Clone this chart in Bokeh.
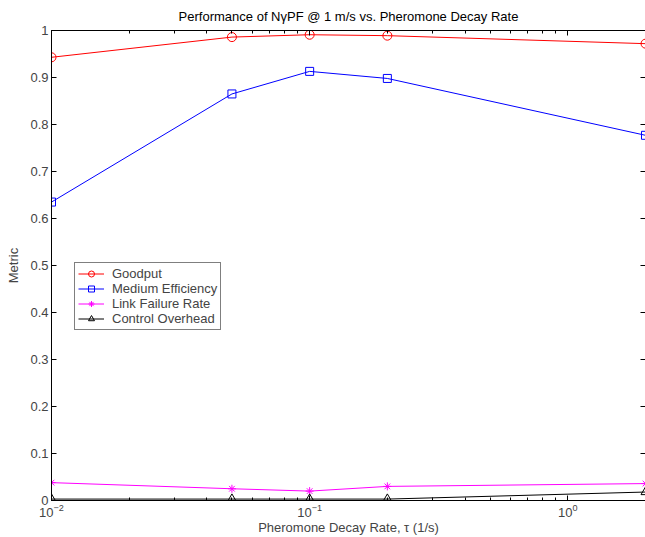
from bokeh.plotting import figure
from bokeh.models import Range1d, LinearAxis, LogAxis, CustomJSTickFormatter, FixedTicker, LogTicker, Legend
from bokeh.embed import file_html
from bokeh.resources import INLINE

# ---- data ----
decay_rate = [0.01, 0.05, 0.1, 0.2, 2.0]
goodput = [0.943, 0.986, 0.991, 0.989, 0.972]
medium_efficiency = [0.635, 0.865, 0.913, 0.898, 0.777]
link_failure_rate = [0.038, 0.025, 0.020, 0.030, 0.036]
control_overhead = [0.003, 0.003, 0.003, 0.003, 0.018]

y_ticks = [0, 0.1, 0.2, 0.3, 0.4, 0.5, 0.6, 0.7, 0.8, 0.9, 1.0]

title_text = "Performance of N\u03b3PF @ 1 m/s vs. Pheromone Decay Rate"
x_label = "Pheromone Decay Rate, \u03c4 (1/s)"
y_label = "Metric"

FONT = "Liberation Sans"
FS = "13px"

p = figure(width=645, height=537, x_axis_type="log",
           x_range=Range1d(0.01, 2.0), y_range=Range1d(0, 1),
           output_backend="svg", toolbar_location=None,
           min_border_left=51, min_border_right=0,
           min_border_top=30, min_border_bottom=37)

p.background_fill_color = "white"
p.border_fill_color = "white"
p.outline_line_color = None
p.xgrid.visible = False
p.ygrid.visible = False

p.title.text = title_text
p.title.align = "center"
p.title.vertical_align = "bottom"
p.title.text_font = FONT
p.title.text_font_size = FS
p.title.text_font_style = "normal"
p.title.text_color = "black"
p.title.standoff = 13

# bottom axis
xa = p.xaxis[0]
xa.ticker = LogTicker(num_minor_ticks=10)
xa.axis_label = x_label
xa.axis_label_text_font = FONT
xa.axis_label_text_font_size = FS
xa.axis_label_text_font_style = "normal"
xa.axis_label_standoff = 0
xa.major_label_text_font = FONT
xa.major_label_text_font_size = FS
xa.major_label_standoff = 3
xa.major_tick_in = 5
xa.major_tick_out = 0
xa.minor_tick_in = 3
xa.minor_tick_out = 0
xa.axis_line_color = "black"

# left axis
ya = p.yaxis[0]
ya.ticker = FixedTicker(ticks=y_ticks)
ya.formatter = CustomJSTickFormatter(code="return tick.toFixed(1).replace(/\\.0$/, '');")
ya.axis_label = y_label
ya.axis_label_text_font = FONT
ya.axis_label_text_font_size = FS
ya.axis_label_text_font_style = "normal"
ya.axis_label_standoff = 6
ya.major_label_text_font = FONT
ya.major_label_text_font_size = FS
ya.major_label_standoff = 3
ya.major_tick_in = 5
ya.major_tick_out = 0
ya.minor_tick_in = 0
ya.minor_tick_out = 0
ya.axis_line_color = "black"

blank = CustomJSTickFormatter(code="return '';")

top = LogAxis(ticker=LogTicker(num_minor_ticks=10), formatter=blank,
              major_label_text_font_size="0px", major_label_standoff=0,
              major_tick_in=5, major_tick_out=0, minor_tick_in=3, minor_tick_out=0,
              axis_line_color="black")
p.add_layout(top, "above")

right = LinearAxis(ticker=FixedTicker(ticks=y_ticks), formatter=blank,
                   major_label_text_font_size="0px", major_label_standoff=0,
                   major_tick_in=5, major_tick_out=0, minor_tick_in=0, minor_tick_out=0,
                   axis_line_color=None)
p.add_layout(right, "right")

# series
items = []
series = [
    ("Goodput", goodput, "#ff0000", "circle", 9),
    ("Medium Efficiency", medium_efficiency, "#0000ff", "square", 8),
    ("Link Failure Rate", link_failure_rate, "#ff00ff", "asterisk", 8),
    ("Control Overhead", control_overhead, "#000000", "triangle", 9),
]
for name, ys, col, mk, sz in series:
    r1 = p.line(decay_rate, ys, line_color=col, line_width=1)
    r2 = p.scatter(decay_rate, ys, marker=mk, size=sz, line_color=col,
                   fill_color=None, line_width=1)
    items.append((name, [r1, r2]))

leg = Legend(items=items, location=(23, 170))
leg.label_text_font = FONT
leg.label_text_font_size = FS
leg.label_height = 15
leg.glyph_height = 15
leg.glyph_width = 26
leg.label_standoff = 8
leg.spacing = 0
leg.padding = 3
leg.margin = 0
leg.border_line_color = "black"
leg.border_line_width = 1
leg.background_fill_color = "white"
leg.background_fill_alpha = 1
p.add_layout(leg, "center")

open("out.html", "w").write(file_html(p, INLINE))
